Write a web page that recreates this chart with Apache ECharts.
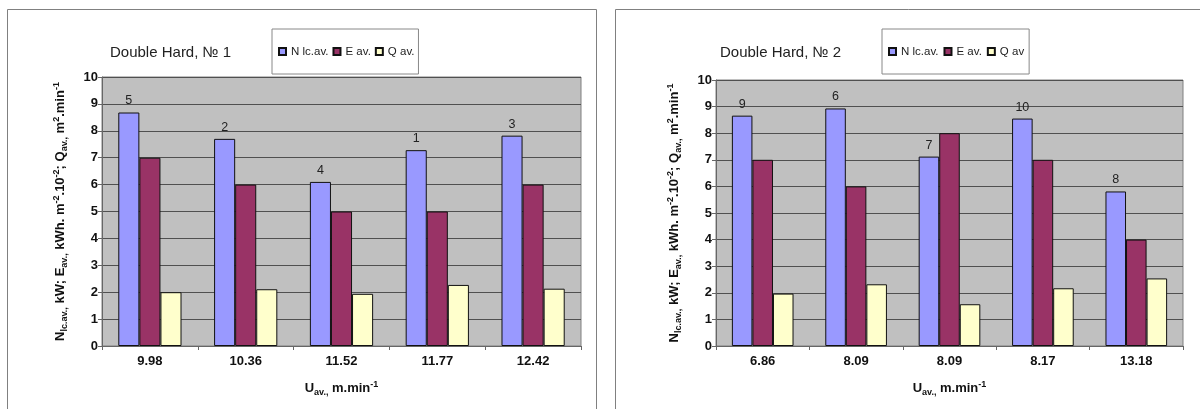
<!DOCTYPE html>
<html>
<head>
<meta charset="utf-8">
<script src="https://cdn.jsdelivr.net/npm/echarts@6/dist/echarts.min.js"></script>
<style>
html,body{margin:0;padding:0;background:#fff;}
#c{width:1200px;height:409px;}
</style>
</head>
<body>
<div id="c"></div>
<script>
// ---- data ----
const title1 = 'Double Hard, № 1';
const title2 = 'Double Hard, № 2';
const cats1 = ['9.98', '10.36', '11.52', '11.77', '12.42'];
const cats2 = ['6.86', '8.09', '8.09', '8.17', '13.18'];
const nLc1 = [8.68, 7.70, 6.10, 7.28, 7.82];
const eAv1 = [7, 6, 5, 5, 6];
const qAv1 = [2.00, 2.11, 1.94, 2.27, 2.13];
const nLc2 = [8.66, 8.93, 7.12, 8.55, 5.81];
const eAv2 = [7, 6, 8, 7, 4];
const qAv2 = [1.97, 2.32, 1.57, 2.17, 2.54];
const runLabels1 = ['5', '2', '4', '1', '3'];
const runLabels2 = ['9', '6', '7', '10', '8'];
const legend1 = ['N lc.av.', 'E av.', 'Q av.'];
const legend2 = ['N lc.av.', 'E av.', 'Q av'];
const yTicks = [0, 1, 2, 3, 4, 5, 6, 7, 8, 9, 10];

// ---- styling ----
const FF = "'Liberation Sans', Arial, sans-serif";
const colors = ['#9999FF', '#993366', '#FFFFCC'];
const gridLineColor = '#505050';
const axisColor = '#666666';

const yName = '{b|N}{sub|lc.av.,}{b| kW; E}{sub|av.,}{b| kWh. m}{sup|-2}{b|.10}{sup|-2}{b|; Q}{sub|av.,}{b| m}{sup|2}{b|.min}{sup|-1}';
const xName = '{b|U}{sub|av.,}{b| m.min}{sup|-1}';
const rich = {
  b: {fontFamily: FF, fontSize: 13, fontWeight: 'bold', color: '#111', lineHeight: 17},
  sub: {fontFamily: FF, fontSize: 9, fontWeight: 'bold', color: '#111', lineHeight: 9, verticalAlign: 'bottom'},
  sup: {fontFamily: FF, fontSize: 9, fontWeight: 'bold', color: '#111', lineHeight: 9, verticalAlign: 'top'}
};

function xAxis(gi, cats) {
  return {
    type: 'category', gridIndex: gi, data: cats,
    axisLine: {show: true, lineStyle: {color: axisColor, width: 1}},
    axisTick: {show: true, length: 4, alignWithLabel: false, lineStyle: {color: axisColor}},
    axisLabel: {fontFamily: FF, fontSize: 13, fontWeight: 'bold', color: '#111', margin: 9},
    name: xName, nameLocation: 'middle', nameGap: 34,
    nameTextStyle: {rich: rich}
  };
}
function yAxis(gi) {
  return {
    type: 'value', gridIndex: gi, min: 0, max: yTicks[yTicks.length - 1], interval: 1,
    axisLine: {show: true, lineStyle: {color: axisColor, width: 1}},
    axisTick: {show: true, length: 4, lineStyle: {color: axisColor}},
    axisLabel: {fontFamily: FF, fontSize: 13, fontWeight: 'bold', color: '#111', margin: 4},
    splitLine: {show: true, lineStyle: {color: gridLineColor, width: 1}},
    name: yName, nameLocation: 'middle', nameGap: 33, nameRotate: 90,
    nameTextStyle: {rich: rich}
  };
}
function bar(name, gi, data, color, labels) {
  const s = {
    type: 'bar', name: name, xAxisIndex: gi, yAxisIndex: gi, data: data,
    barGap: '0%', barCategoryGap: '34%',
    itemStyle: {color: color, borderColor: '#111', borderWidth: 1},
    emphasis: {disabled: true}
  };
  if (labels) {
    s.label = {show: true, position: 'top', distance: 5, fontFamily: FF, fontSize: 12.5, color: '#222',
      formatter: p => labels[p.dataIndex]};
  }
  return s;
}
function legend(left, names, gap, pad) {
  return {
    left: left, top: 29, orient: 'horizontal', data: names, selectedMode: false,
    icon: 'rect', itemWidth: 7, itemHeight: 7, itemGap: gap,
    padding: pad, borderColor: '#888', borderWidth: 1, backgroundColor: '#fff',
    textStyle: {fontFamily: FF, fontSize: 11.5, color: '#222', lineHeight: 13}
  };
}

const chart = echarts.init(document.getElementById('c'), null, {renderer: 'canvas'});
chart.setOption({
  animation: false,
  backgroundColor: '#fff',
  graphic: [
    {type: 'rect', shape: {x: 7.5, y: 9.5, width: 589, height: 430}, style: {fill: 'none', stroke: '#808080', lineWidth: 1}, silent: true, z: -10},
    {type: 'rect', shape: {x: 615.5, y: 9.5, width: 620, height: 430}, style: {fill: 'none', stroke: '#808080', lineWidth: 1}, silent: true, z: -10}
  ],
  title: [
    {text: title1, left: 110, top: 45, padding: 0, textStyle: {fontFamily: FF, fontSize: 15, fontWeight: 'normal', color: '#222', lineHeight: 16}},
    {text: title2, left: 720, top: 45, padding: 0, textStyle: {fontFamily: FF, fontSize: 15, fontWeight: 'normal', color: '#222', lineHeight: 16}}
  ],
  legend: [legend(272, legend1, 4, [16, 4, 16, 6]), legend(882, legend2, 5, [16, 5, 16, 6])],
  grid: [
    {left: 102, right: 619, top: 77, bottom: 63, show: true, backgroundColor: '#C0C0C0', borderColor: '#808080', borderWidth: 1},
    {left: 716, right: 17, top: 80, bottom: 63, show: true, backgroundColor: '#C0C0C0', borderColor: '#808080', borderWidth: 1}
  ],
  xAxis: [xAxis(0, cats1), xAxis(1, cats2)],
  yAxis: [yAxis(0), yAxis(1)],
  series: [
    bar(legend1[0], 0, nLc1, colors[0], runLabels1),
    bar(legend1[1], 0, eAv1, colors[1]),
    bar(legend1[2], 0, qAv1, colors[2]),
    bar(legend2[0], 1, nLc2, colors[0], runLabels2),
    bar(legend2[1], 1, eAv2, colors[1]),
    bar(legend2[2], 1, qAv2, colors[2])
  ]
});
</script>
</body>
</html>
